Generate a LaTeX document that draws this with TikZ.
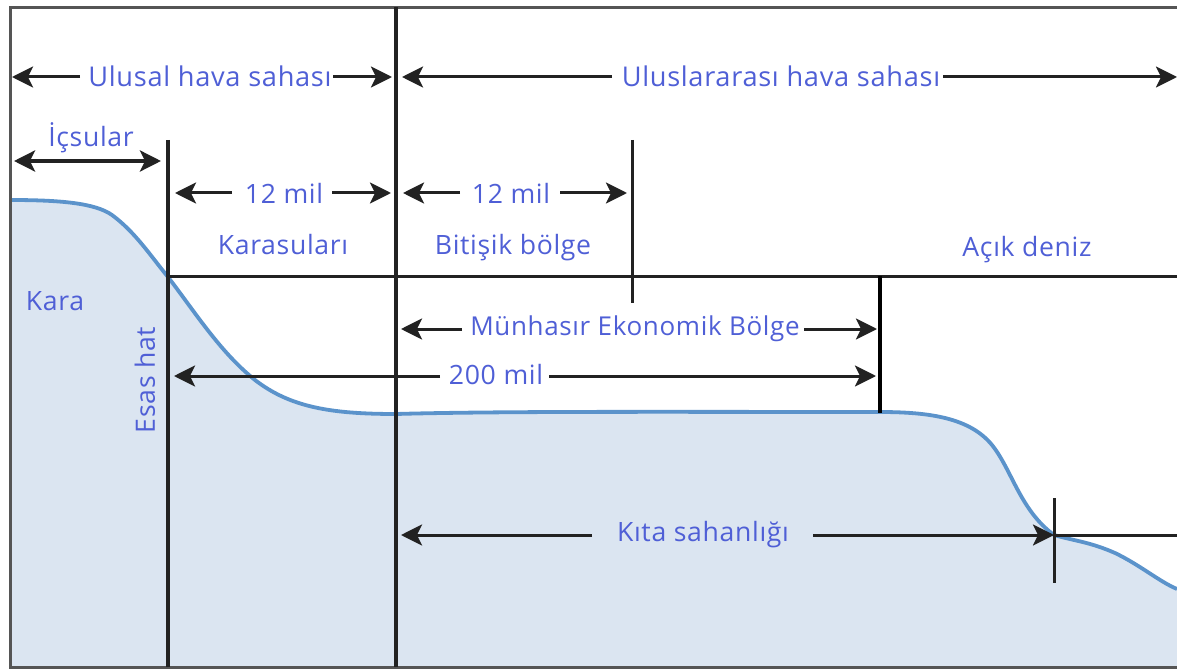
\documentclass[tikz,border=0pt]{standalone}
\usepackage{fontspec}
\setmainfont[LetterSpace=2.5]{Open Sans}
\usetikzlibrary{arrows.meta}
\definecolor{txt}{HTML}{4F5FD6}
\definecolor{ln}{HTML}{222222}
\definecolor{sea}{HTML}{DBE5F1}
\definecolor{shore}{HTML}{5B93CB}
\definecolor{frame}{HTML}{555555}
\tikzset{
 lbl/.style={font=\fontsize{26.6}{32}\selectfont,text=txt,inner sep=0pt,anchor=center},
 wide lbl/.style={lbl,font=\fontsize{26}{32}\selectfont},
 top lbl/.style={lbl,font=\fontsize{27.2}{32}\selectfont},
 arr/.style={draw=ln,line width=3pt,-{Stealth[length=21pt,width=21pt,inset=5pt]}},
 dbl/.style={draw=ln,line width=3.8pt,{Stealth[length=21pt,width=21pt,inset=5pt]}-{Stealth[length=21pt,width=21pt,inset=5pt]}},
 rule/.style={draw=ln,line width=3.2pt},
 hrule/.style={draw=ln,line width=3pt},
 thick rule/.style={draw=black,line width=4pt},
 thin rule/.style={draw=ln,line width=3pt},
}
\begin{document}
\begin{tikzpicture}[x=1pt,y=-1pt]
\useasboundingbox (0,0) rectangle (1177,671);
% sea / land
\fill[sea] (10,200) .. controls (60,200) and (95,203) .. (112,215)
 .. controls (135,232) and (150,255) .. (168,277)
 .. controls (195,312) and (220,352) .. (255,380)
 .. controls (290,407) and (330,414) .. (396,414)
 .. controls (500,411) and (700,412) .. (880,412)
 .. controls (930,412) and (970,418) .. (992,445)
 .. controls (1012,470) and (1020,510) .. (1054,535)
 .. controls (1075,541) and (1090,542) .. (1115,553)
 .. controls (1140,565) and (1160,582) .. (1177,589)
 -- (1177,667) -- (10,667) -- cycle;
\draw[shore,line width=3.8pt] (10,200) .. controls (60,200) and (95,203) .. (112,215)
 .. controls (135,232) and (150,255) .. (168,277)
 .. controls (195,312) and (220,352) .. (255,380)
 .. controls (290,407) and (330,414) .. (396,414)
 .. controls (500,411) and (700,412) .. (880,412)
 .. controls (930,412) and (970,418) .. (992,445)
 .. controls (1012,470) and (1020,510) .. (1054,535)
 .. controls (1075,541) and (1090,542) .. (1115,553)
 .. controls (1140,565) and (1160,582) .. (1177,589);
% frame
\draw[frame,line width=3pt] (1177,7.5) -- (10,7.5) -- (10,667) -- (1177,667);
% named points
\coordinate (tl) at (396,7);
\coordinate (bl) at (396,667);
\coordinate (ba) at (168,140);
\coordinate (bb) at (168,667);
\coordinate (ca) at (632,140);
\coordinate (cb) at (632,303);
\coordinate (ha) at (168,276);
\coordinate (hb) at (1177,276);
\coordinate (ea) at (880,276);
\coordinate (eb) at (880,413);
\coordinate (sa) at (1054,498);
\coordinate (sb) at (1054,583);
\coordinate (sm) at (1054,535);
\coordinate (sr) at (1177,535);
% rules
\draw[rule] (tl) -- (bl);
\draw[rule] (ba) -- (bb);
\draw[thin rule] (ca) -- (cb);
\draw[hrule] (ha) -- (hb);
\draw[thick rule] (ea) -- (eb);
\draw[thin rule] (sa) -- (sb);
% labels
\node[top lbl] (ulusal) at (210,76) {Ulusal hava sahası};
\node[top lbl] (ulusl) at (781,76) {Uluslararası hava sahası};
\node[lbl] (ic) at (91,138) {İçsular};
\node[lbl] (m1) at (284,193) {12 mil};
\node[lbl] (m2) at (511,193) {12 mil};
\node[lbl] (kars) at (283,245) {Karasuları};
\node[lbl] (bit) at (513,248) {Bitişik bölge};
\node[lbl] (acik) at (1027,250) {Açık deniz};
\node[lbl] (kara) at (55,301) {Kara};
\node[lbl,rotate=90] (esas) at (145,380) {Esas hat};
\node[wide lbl] (meb) at (635,329) {Münhasır Ekonomik Bölge};
\node[lbl] (m200) at (496,375) {200 mil};
\node[lbl] (kita) at (703,535) {Kıta sahanlığı};
% arrow ends
\coordinate (a1) at (12,77);
\coordinate (a1s) at (80,77);
\coordinate (a2s) at (333,77);
\coordinate (a2) at (392,77);
\coordinate (a3) at (402,77);
\coordinate (a3s) at (612,77);
\coordinate (a4s) at (943,77);
\coordinate (a4) at (1177,77);
\coordinate (i1) at (14,161);
\coordinate (i2) at (161,161);
\coordinate (b1) at (175,193);
\coordinate (b1s) at (232,193);
\coordinate (b2s) at (332,193);
\coordinate (b2) at (391,193);
\coordinate (c1) at (403,193);
\coordinate (c1s) at (460,193);
\coordinate (c2s) at (560,193);
\coordinate (c2) at (627,193);
\coordinate (d1) at (401,329);
\coordinate (d1s) at (462,329);
\coordinate (d2s) at (804,329);
\coordinate (d2) at (877,329);
\coordinate (f1) at (174,376);
\coordinate (f1s) at (440,376);
\coordinate (f2s) at (549,376);
\coordinate (f2) at (876,376);
\coordinate (g1) at (401,535);
\coordinate (g1s) at (592,535);
\coordinate (g2s) at (813,535);
% arrows
\draw[arr] (a1s) -- (a1);
\draw[arr] (a2s) -- (a2);
\draw[arr] (a3s) -- (a3);
\draw[arr] (a4s) -- (a4);
\draw[dbl] (i1) -- (i2);
\draw[arr] (b1s) -- (b1);
\draw[arr] (b2s) -- (b2);
\draw[arr] (c1s) -- (c1);
\draw[arr] (c2s) -- (c2);
\draw[arr] (d1s) -- (d1);
\draw[arr] (d2s) -- (d2);
\draw[arr] (f1s) -- (f1);
\draw[arr] (f2s) -- (f2);
\draw[arr] (g1s) -- (g1);
\draw[arr] (g2s) -- (sm);
\draw[hrule] (sm) -- (sr);
\end{tikzpicture}
\end{document}
